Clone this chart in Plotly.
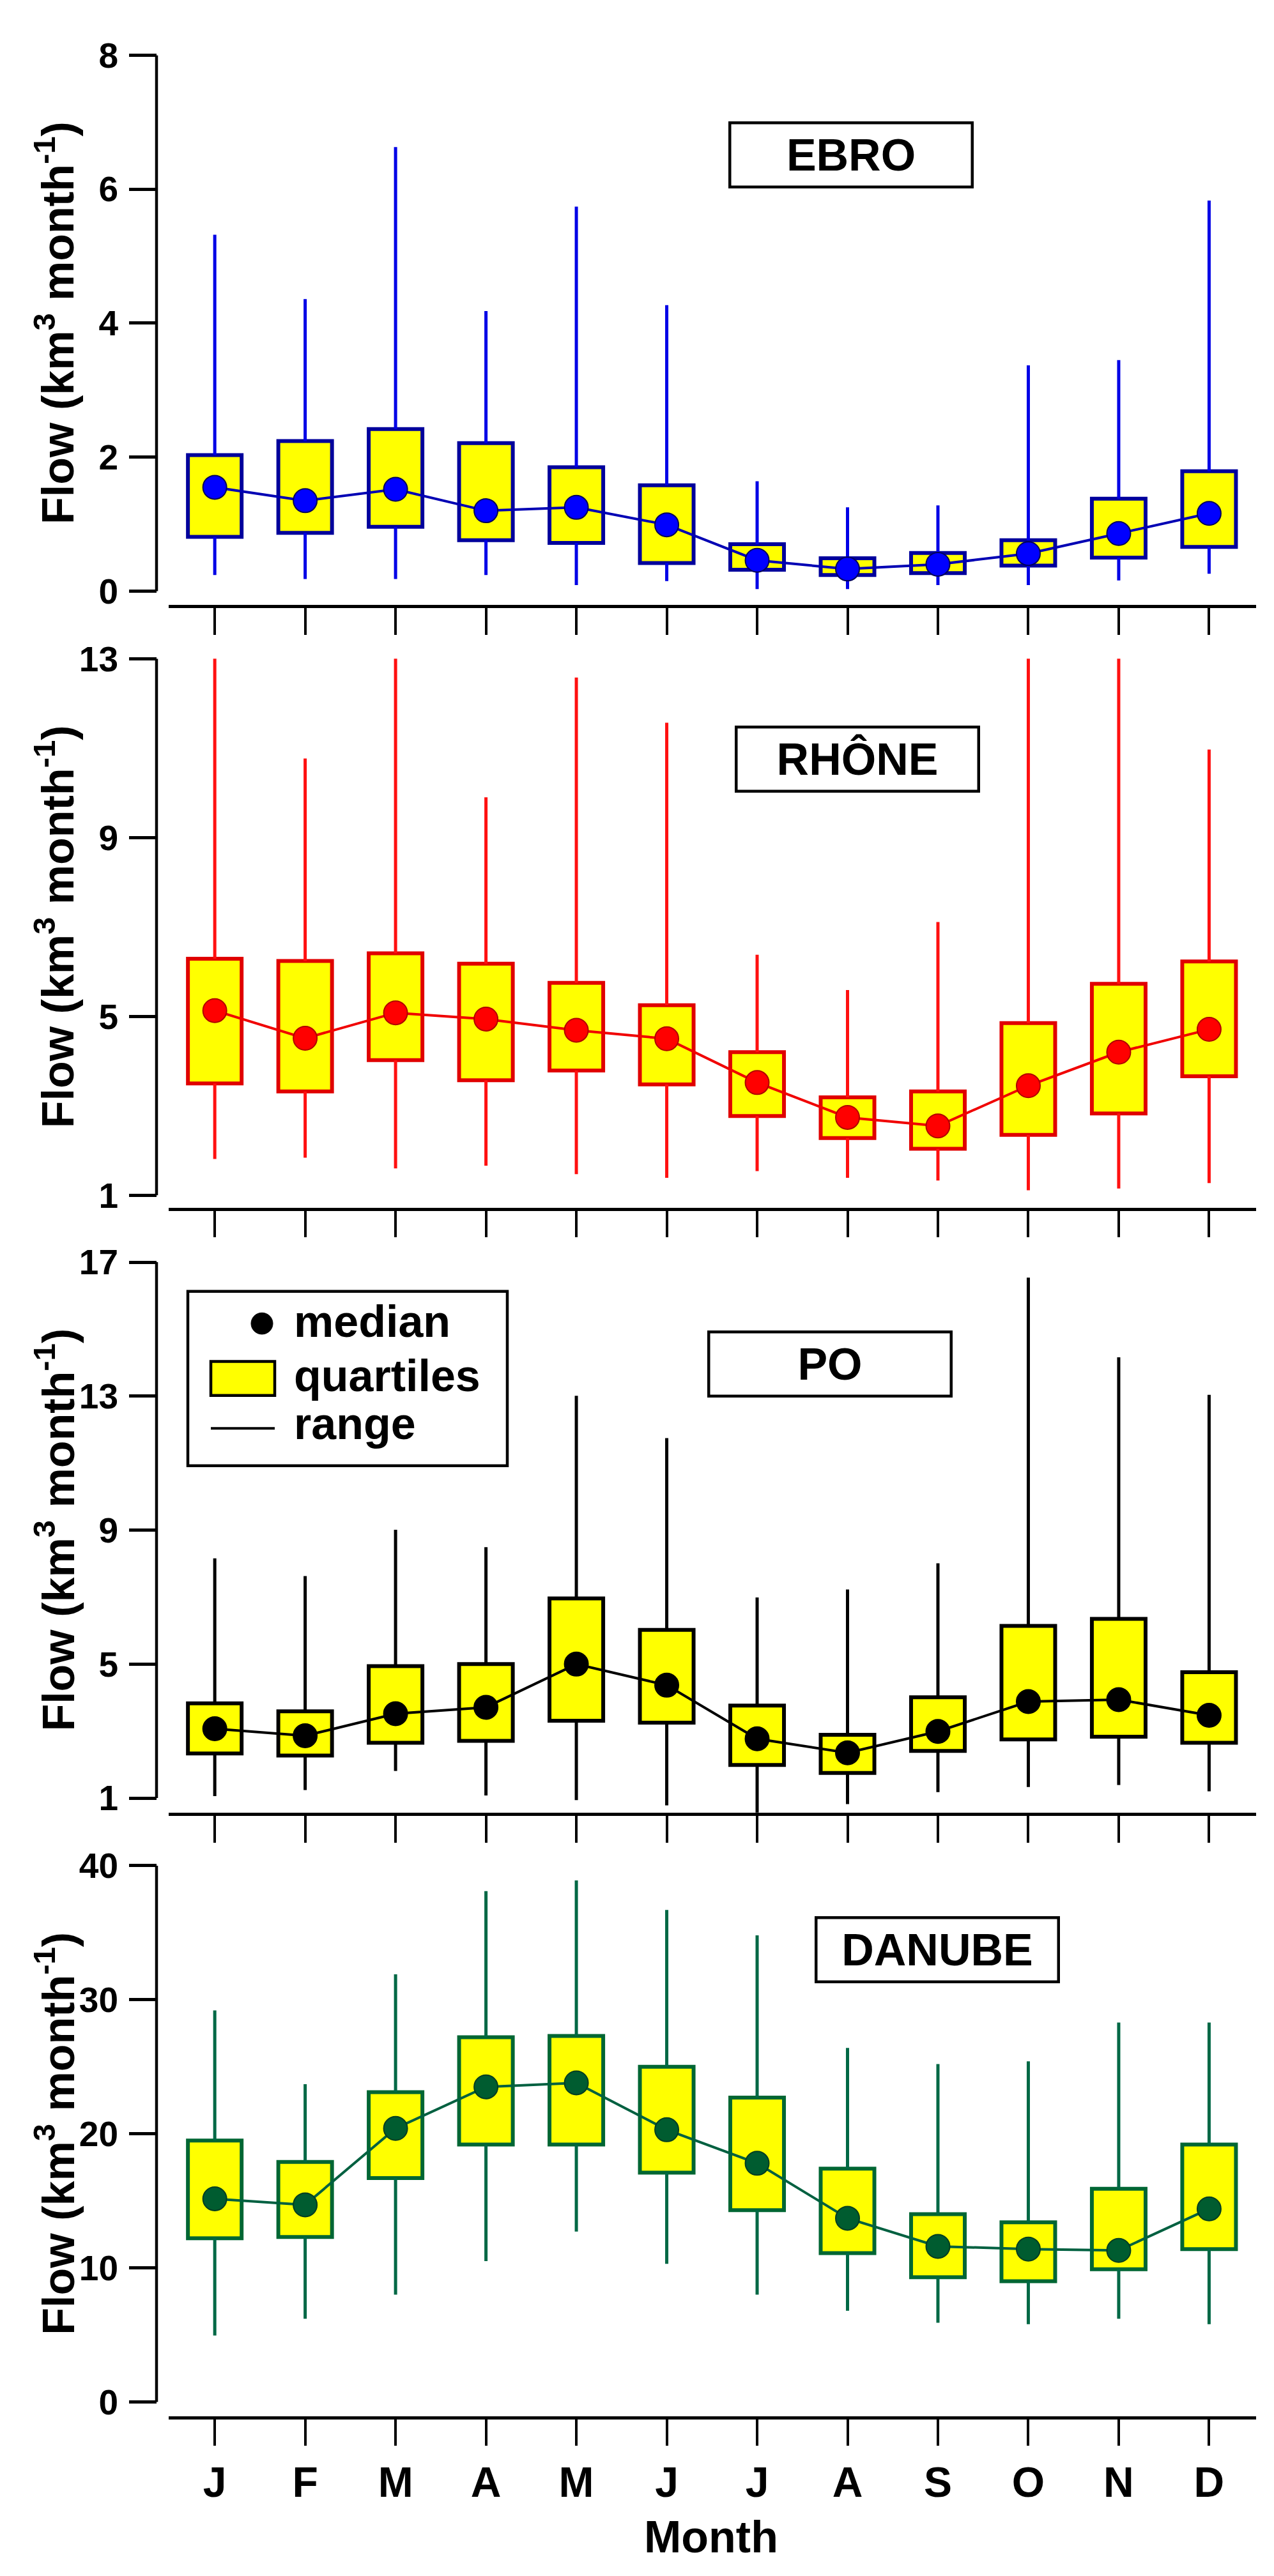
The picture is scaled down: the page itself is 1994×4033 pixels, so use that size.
import plotly.graph_objects as go

# month labels
months = ["J", "F", "M", "A", "M", "J", "J", "A", "S", "O", "N", "D"]
xpos = list(range(12))

# EBRO (km3 month-1)
ebro_max = [5.32, 4.36, 6.63, 4.18, 5.74, 4.27, 1.64, 1.25, 1.28, 3.37, 3.45, 5.83]
ebro_q3 = [2.03, 2.24, 2.42, 2.21, 1.85, 1.58, 0.70, 0.49, 0.57, 0.76, 1.38, 1.79]
ebro_med = [1.55, 1.35, 1.52, 1.20, 1.25, 0.99, 0.46, 0.33, 0.40, 0.56, 0.86, 1.16]
ebro_q1 = [0.81, 0.87, 0.96, 0.76, 0.72, 0.42, 0.32, 0.24, 0.27, 0.38, 0.50, 0.66]
ebro_min = [0.24, 0.18, 0.18, 0.24, 0.09, 0.15, 0.03, 0.03, 0.09, 0.09, 0.16, 0.26]

# RHONE
rhone_max = [13.07, 10.77, 13.18, 9.90, 12.58, 11.57, 6.38, 5.59, 7.11, 13.12, 13.23, 10.97]
rhone_q3 = [6.29, 6.24, 6.41, 6.18, 5.75, 5.25, 4.20, 3.19, 3.32, 4.85, 5.73, 6.23]
rhone_med = [5.13, 4.51, 5.08, 4.94, 4.69, 4.50, 3.52, 2.74, 2.55, 3.45, 4.20, 4.71]
rhone_q1 = [3.50, 3.32, 4.02, 3.57, 3.79, 3.48, 2.77, 2.28, 2.04, 2.35, 2.83, 3.66]
rhone_min = [1.81, 1.84, 1.60, 1.66, 1.47, 1.39, 1.54, 1.39, 1.33, 1.11, 1.15, 1.27]

# PO
po_max = [8.16, 7.63, 9.01, 8.49, 13.01, 11.75, 6.99, 7.23, 8.01, 16.54, 14.16, 13.04]
po_q3 = [3.83, 3.59, 4.94, 5.00, 6.96, 6.02, 3.76, 2.89, 4.01, 6.14, 6.35, 4.76]
po_med = [3.07, 2.86, 3.52, 3.71, 5.00, 4.37, 2.77, 2.35, 2.99, 3.88, 3.94, 3.47]
po_q1 = [2.33, 2.27, 2.65, 2.71, 3.31, 3.25, 1.99, 1.75, 2.41, 2.75, 2.83, 2.65]
po_min = [1.06, 1.24, 1.81, 1.08, 0.94, 0.78, 0.55, 0.82, 1.18, 1.33, 1.39, 1.20]

# DANUBE
danube_max = [29.2, 23.7, 31.9, 38.1, 38.9, 36.7, 34.8, 26.4, 25.2, 25.4, 28.3, 28.3]
danube_q3 = [19.5, 17.9, 23.1, 27.2, 27.3, 25.0, 22.7, 17.4, 14.0, 13.4, 15.9, 19.2]
danube_med = [15.15, 14.7, 20.4, 23.5, 23.8, 20.3, 17.8, 13.7, 11.6, 11.4, 11.3, 14.4]
danube_q1 = [12.2, 12.3, 16.7, 19.2, 19.2, 17.1, 14.3, 11.1, 9.3, 9.0, 9.9, 11.4]
danube_min = [4.95, 6.2, 8.0, 10.5, 12.7, 10.3, 8.0, 6.8, 5.9, 5.8, 6.2, 5.8]

W, H = 1994, 4033
FONT = "Liberation Sans, Arial, sans-serif"

def px(x):
    return x / W

def py(y):
    return 1 - y / H

# name, data, colours (whisker, box edge, marker, marker edge, line), y range, ticks,
# pixel rows: top of range, bottom of range, x axis line; label box centre
panels = [
    dict(name="EBRO", data=(ebro_min, ebro_q1, ebro_med, ebro_q3, ebro_max),
         col=("#0000e6", "#00009c", "#0000ff", "#00005a", "#0000b4"),
         rng=(0, 8), ticks=[0, 2, 4, 6, 8], rows=(48, 896, 918), lab=(1324, 205.5)),
    dict(name="RHÔNE", data=(rhone_min, rhone_q1, rhone_med, rhone_q3, rhone_max),
         col=("#ff1010", "#e00000", "#ff0000", "#b00000", "#f00000"),
         rng=(1, 13), ticks=[1, 5, 9, 13], rows=(1003, 1852, 1871.5), lab=(1334, 1162)),
    dict(name="PO", data=(po_min, po_q1, po_med, po_q3, po_max),
         col=("#000000", "#000000", "#000000", "#000000", "#000000"),
         rng=(1, 17), ticks=[1, 5, 9, 13, 17], rows=(1958, 2806, 2829), lab=(1290.5, 2119.5)),
    dict(name="DANUBE", data=(danube_min, danube_q1, danube_med, danube_q3, danube_max),
         col=("#006845", "#006633", "#005c30", "#003d20", "#006040"),
         rng=(0, 40), ticks=[0, 10, 20, 30, 40], rows=(2913, 3761.5, 3784), lab=(1459, 3045.5)),
]

fig = go.Figure()
shapes = []
annotations = []
YAX_X = px(237)

for i, p in enumerate(panels):
    n = i + 1
    xa = "x" if n == 1 else f"x{n}"
    ya = "y" if n == 1 else f"y{n}"
    lo, q1, med, q3, hi = p["data"]
    cw, cb, cm, cme, cl = p["col"]

    # whiskers (drawn as two pieces so the boxes stay opaque)
    wx, wy = [], []
    for k in range(12):
        wx += [xpos[k], xpos[k], None, xpos[k], xpos[k], None]
        wy += [lo[k], q1[k], None, q3[k], hi[k], None]
    fig.add_trace(go.Scatter(x=wx, y=wy, mode="lines", line=dict(color=cw, width=5),
                             xaxis=xa, yaxis=ya, showlegend=False, hoverinfo="skip"))
    fig.add_trace(go.Bar(x=xpos, y=[b - a for a, b in zip(q1, q3)], base=q1, width=0.594,
                         marker=dict(color="#ffff00", line=dict(color=cb, width=6)),
                         xaxis=xa, yaxis=ya, showlegend=False))
    fig.add_trace(go.Scatter(x=xpos, y=med, mode="lines+markers",
                             line=dict(color=cl, width=4),
                             marker=dict(size=37, color=cm, line=dict(color=cme, width=2)),
                             xaxis=xa, yaxis=ya, showlegend=False, cliponaxis=False))

    top, bot, xline = p["rows"]
    ppu = (bot - top) / (p["rng"][1] - p["rng"][0])
    ymin = p["rng"][0] - (xline - bot) / ppu
    last = n == len(panels)
    fig.layout[("xaxis" if n == 1 else f"xaxis{n}")] = dict(
        domain=[px(256), px(1958)], range=[-0.51, 11.52], anchor=ya,
        tickmode="array", tickvals=xpos, ticktext=months, showticklabels=last,
        ticks="outside", ticklen=42, tickwidth=4, tickcolor="black",
        showline=True, linewidth=4.5, linecolor="black", showgrid=False, zeroline=False,
        tickfont=dict(family=FONT, size=66, color="black", weight="bold"),
        ticklabelstandoff=0)
    fig.layout[("yaxis" if n == 1 else f"yaxis{n}")] = dict(
        domain=[py(xline), py(top)], range=[ymin, p["rng"][1]], anchor="free",
        position=YAX_X, tickmode="array", tickvals=p["ticks"],
        ticks="outside", ticklen=43, tickwidth=4.5, tickcolor="black",
        showline=False, showgrid=False, zeroline=False,
        tickfont=dict(family=FONT, size=55, color="black", weight="bold"),
        ticklabelstandoff=6)
    shapes.append(dict(type="line", xref="paper", yref=ya, x0=YAX_X, x1=YAX_X,
                       y0=p["rng"][0], y1=p["rng"][1], line=dict(color="black", width=4.5)))

    # river name box
    annotations.append(dict(xref="paper", yref="paper", x=px(p["lab"][0]), y=py(p["lab"][1]),
                            text="<b>%s</b>" % p["name"], showarrow=False,
                            font=dict(family=FONT, size=70, color="black"),
                            bgcolor="white", bordercolor="black", borderwidth=4.5,
                            borderpad=0, width=375, height=96,
                            xanchor="center", yanchor="middle"))
    # y title
    annotations.append(dict(xref="paper", yref="paper", x=px(78), y=py((top + bot) / 2),
                            text="<b>Flow (km<sup>3</sup> month<sup>-1</sup>)</b>",
                            textangle=-90, showarrow=False,
                            font=dict(family=FONT, size=70, color="black"),
                            xanchor="center", yanchor="middle"))

# x title
annotations.append(dict(xref="paper", yref="paper", x=px(1105), y=py(3975), text="<b>Month</b>",
                        showarrow=False, font=dict(family=FONT, size=70, color="black"),
                        xanchor="center", yanchor="middle"))

# legend drawn in the PO panel
shapes += [
    dict(type="rect", xref="paper", yref="paper", x0=px(286), x1=px(786), y0=py(2004), y1=py(2280),
         line=dict(color="black", width=4.5), fillcolor="white", layer="above"),
    dict(type="circle", xref="paper", yref="paper", x0=px(385), x1=px(419), y0=py(2038), y1=py(2072),
         line=dict(color="black", width=1), fillcolor="black", layer="above"),
    dict(type="rect", xref="paper", yref="paper", x0=px(322), x1=px(422), y0=py(2115), y1=py(2169),
         line=dict(color="black", width=4.5), fillcolor="#ffff00", layer="above"),
    dict(type="line", xref="paper", yref="paper", x0=px(322), x1=px(422), y0=py(2221), y1=py(2221),
         line=dict(color="black", width=4), layer="above"),
]
for txt, yy in [("median", 2052), ("quartiles", 2138), ("range", 2214)]:
    annotations.append(dict(xref="paper", yref="paper", x=px(450), y=py(yy), text="<b>%s</b>" % txt,
                            showarrow=False, font=dict(family=FONT, size=70, color="black"),
                            xanchor="left", yanchor="middle"))

fig.update_layout(width=W, height=H, margin=dict(l=0, r=0, t=0, b=0),
                  paper_bgcolor="white", plot_bgcolor="white", showlegend=False,
                  barmode="overlay", shapes=shapes, annotations=annotations)

fig.write_html("out.html")
